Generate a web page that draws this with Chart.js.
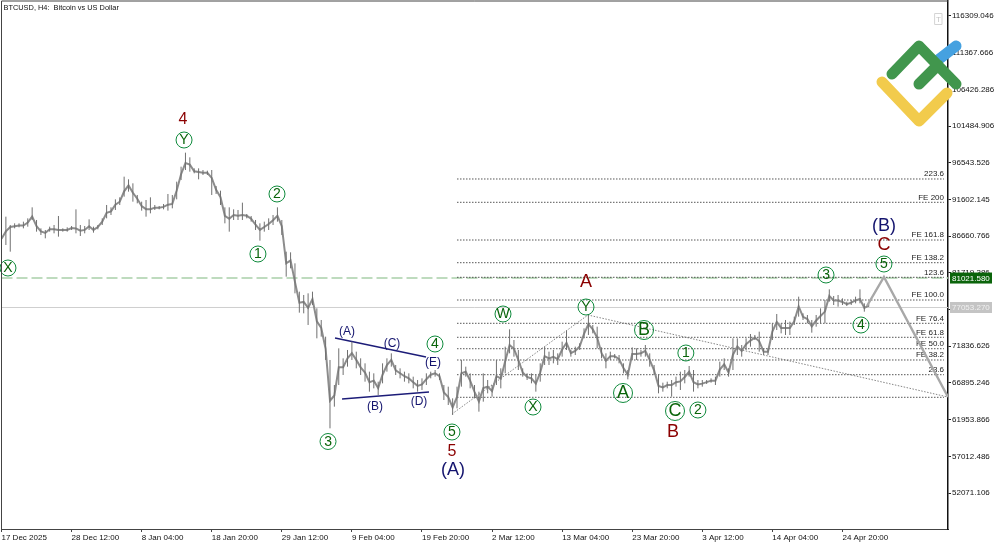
<!DOCTYPE html>
<html>
<head>
<meta charset="utf-8">
<title>BTCUSD H4</title>
<script src="https://cdn.jsdelivr.net/npm/chart.js@4"></script>
<style>
  html, body { margin: 0; padding: 0; background: #fff; overflow: hidden; }
  #wrap { position: relative; width: 1000px; height: 545px; }
  canvas { display: block; }
  #logo { position: absolute; left: 0; top: 0; pointer-events: none; }
</style>
</head>
<body>
<div id="wrap">
  <canvas id="chart" width="1000" height="545" style="width:1000px;height:545px"></canvas>
  <svg id="logo" width="1000" height="545" fill="none" stroke-linecap="round" stroke-linejoin="round">
    <rect x="935" y="13.5" width="7" height="11" stroke="#d4d4d4"/>
    <text x="938.5" y="22" font-family="Liberation Sans" font-size="8" fill="#c4c4c4" text-anchor="middle">T</text>
    <path d="M938 60 L956 46" stroke="#45a1e0" stroke-width="11"/>
    <path d="M892 74 L919 46 L956 84 M919 84 L938 65" stroke="#41964d" stroke-width="11"/>
    <path d="M882 82 L919 121 L947 93" stroke="#f2cb4c" stroke-width="11"/>
  </svg>
</div>
<script>
// H4 bars, one high/low/close per 4 bars
const barStep = 4;
const highs = [
  86817,89286,88164,88388,88388,88613,89061,90543,88837,87715,
  87490,87939,88164,89376,87715,87850,88029,90273,88164,88029,
  88927,87939,88164,89061,90857,90543,91620,91890,94673,94314,
  93775,92204,91306,91530,91890,90857,90722,90992,92339,92204,
  94000,96020,97905,97276,95795,95795,95570,95481,95570,93416,
  92787,90543,90543,90273,90184,91171,89645,89376,88837,88388,
  88613,89061,89510,90543,88837,84572,84482,83001,79186,78737,
  78961,79186,76941,75370,73125,69983,66616,71554,70208,71330,
  72452,71105,70208,69534,68412,68187,67065,69534,70208,70881,
  69310,68861,68412,68187,67739,67290,67514,68187,68412,68636,
  68187,66616,66392,64821,66392,69983,69085,68187,66616,65718,
  68187,67290,66616,69983,68861,71779,74113,72677,71330,68861,
  68187,68187,67963,69534,71779,71105,71330,70881,72452,73933,
  71330,71779,72228,74247,76043,74697,74472,71689,70881,71105,
  70791,70656,69534,68636,71689,71554,71330,72003,70881,69310,
  67963,66930,67065,67289,67738,68411,68636,69175,68636,67289,
  67289,67289,67514,67738,69759,70208,68861,72901,72901,72003,
  72901,73484,73350,73798,71554,71554,74921,76178,74921,75370,
  75145,75819,78512,76267,76043,75370,76043,76941,78063,79500,
  78602,78737,78288,77839,78063,78512,79500,77614,77524
];
const lows = [
  85785,85470,84572,87715,87850,87715,87939,88837,87266,86817,
  86368,87266,87041,86592,87266,87266,87490,87041,86682,87041,
  87490,87131,87580,88164,89061,89510,90184,90857,91979,92653,
  91306,91081,90094,89286,89735,90184,90273,90273,90094,90408,
  91620,94224,95570,95346,95122,94314,94897,94897,92204,92339,
  90857,88388,87266,88837,88837,88837,89061,88613,87490,86053,
  87266,87490,88164,88613,86817,81205,82328,78961,76358,76268,
  74697,77390,72901,73125,69983,60781,63698,66616,67963,69085,
  69983,68861,67963,67065,65718,66167,65270,66841,68412,69085,
  67963,67514,67065,66841,66167,65718,65943,66616,67514,67739,
  67290,64596,63923,62576,63474,66392,67739,66167,64821,63025,
  64372,65494,65045,66616,66167,68187,70881,70432,68636,67739,
  67290,66841,65718,67065,69310,69310,69534,69310,70432,71330,
  70432,70656,71330,72901,73350,73574,71554,70208,68861,69983,
  70208,69534,68187,67379,69983,69983,70432,70432,69085,67963,
  65494,65718,66167,65045,66392,65943,66841,67738,65718,66167,
  66392,66751,66930,66616,67738,68636,67738,68636,70656,70432,
  71330,71779,72676,71105,70656,70656,72676,74023,73574,73350,
  73350,74696,75819,75370,74921,73664,74472,74921,74921,77839,
  77389,77165,77389,77255,77389,77614,77614,76492,77165
];
const closes = [
  86300,87300,87900,88000,88100,88100,88500,89300,88000,87300,
  87100,87600,87600,87500,87500,87500,87750,87700,87400,87500,
  88000,87500,87900,88600,89800,90000,90900,91300,92700,93500,
  92500,91700,90700,90300,90300,90500,90500,90600,90900,91000,
  92800,95000,96500,96300,95400,95300,95200,95200,94500,92900,
  91900,89400,89000,89500,89400,89500,89400,89000,88200,87500,
  87900,88300,88800,89400,88000,83000,83400,80500,77700,77800,
  77000,78200,75200,74300,71500,64500,65200,69000,69000,70200,
  70900,70000,69000,68300,67000,67200,66200,68000,69300,70000,
  68600,68200,67800,67500,67000,66500,66700,67400,68000,68200,
  67800,65600,65000,63600,65000,68200,68400,67200,65700,64400,
  66200,66400,65800,67800,67500,69800,72000,71500,70000,68300,
  67700,67500,66800,68300,70500,70200,70400,70100,71400,72300,
  70900,71200,71800,73500,74800,74100,73000,70900,69900,70500,
  70500,70100,68900,68000,70800,70800,70900,71200,70000,68600,
  66500,66300,66600,66600,67000,67100,67700,68400,67000,66700,
  66800,67000,67200,67200,68700,69400,68300,70700,71800,71200,
  72100,72600,73000,72500,71100,71100,73800,75100,74300,74300,
  74300,75200,77200,75800,75500,74500,75300,75900,76500,78600,
  78000,78000,77800,77500,77700,78000,78200,77000,77300
];

// time axis
const timeLabels = ["17 Dec 2025","28 Dec 12:00","8 Jan 04:00","18 Jan 20:00","29 Jan 12:00","9 Feb 04:00","19 Feb 20:00","2 Mar 12:00","13 Mar 04:00","23 Mar 20:00","3 Apr 12:00","14 Apr 04:00","24 Apr 20:00"];
const timeBars = [0,64,128,192,256,320,384,448,512,576,640,704,768];
const lastBar = 864.4;

// price axis
const priceTicks = [116309.046,111367.666,106426.286,101484.906,96543.526,91602.145,86660.766,81719.386,76778.006,71836.626,66895.246,61953.866,57012.486,52071.106];
const priceMin = 47224;
const priceMax = 118329;
const bidPrice = 81021.58;
const askPrice = 77053.27;

// fibonacci levels
const fibNames = ["223.6","FE 200","FE 161.8","FE 138.2","123.6","FE 100.0","FE 76.4","FE 61.8","FE 50.0","FE 38.2","23.6",""];
const fibPrices = [94358,91220,86143,83086,81120,78063,74925,73040,71504,69983,68003,64959];
const fibFrom = 416;
const fibTo = 860.7;

// hand drawn lines
const triangleTopBars = [304.6,387.7];
const triangleTopPrices = [72946,70387];
const triangleLowBars = [311,390.4];
const triangleLowPrices = [64731,65673];
const swingBars = [411.4,535.6,864.4];
const swingPrices = [62711,76043,64999];
const forecastBars = [790.4,805.9,864.4];
const forecastPrices = [77255,81160,64999];

// wave labels
const circleTexts = ["X","Y","2","1","3","4","5","W","Y","X","B","A","C","2","1","3","4","5"];
const circleBars = [5.9,166.7,251.6,234.2,298.2,395.9,411.4,458,533.8,485.4,586.8,567.6,615.1,636,625,753,784.9,805.9];
const circlePrices = [82372,99610,92338,84258,59007,72138,60287,76178,77120,63653,74023,65539,63115,63249,70925,81430,74696,82911];
const redTexts = ["4","5","A","B","C"];
const redBars = [165.8,411.4,533.8,613.3,805.9];
const redPrices = [102304,57593,80487,60287,85470];
const bigNavyTexts = ["(A)","(B)"];
const bigNavyBars = [412.3,805.9];
const bigNavyPrices = [55169,88029];
const smallNavyTexts = ["(A)","(C)","(E)","(B)","(D)"];
const smallNavyBars = [315.5,356.6,394,341.1,381.3];
const smallNavyPrices = [73754,72138,69579,63653,64327];

const FONT = "Liberation Sans";
const pairs = (xs, ys) => xs.map((x, i) => ({ x, y: ys[i] }));

// vertical wicks, the null breaks the line between bars
const wickPath = highs.flatMap((h, i) => {
  const x = i * barStep;
  return [{ x, y: lows[i] }, { x, y: h }, { x, y: null }];
});

const lineSet = (data, color, width, dash, order) => ({
  data, borderColor: color, borderWidth: width, borderDash: dash || [],
  pointRadius: 0, tension: 0, order
});

const datasets = [
  { ...lineSet(wickPath, "#707070", 1, null, 1), spanGaps: false },
  lineSet(closes.map((y, i) => ({ x: i * barStep, y })), "#8c8c8c", 2, null, 1.5),
  lineSet(pairs(forecastBars, forecastPrices), "#a8a8a8", 2.4, null, 0),
  lineSet(pairs(swingBars, swingPrices), "#666666", 0.8, [1.5, 1.5], 3),
  lineSet(pairs(triangleTopBars, triangleTopPrices), "#1c1c78", 1.4, null, 3),
  lineSet(pairs(triangleLowBars, triangleLowPrices), "#1c1c78", 1.4, null, 3),
  lineSet([{ x: 0, y: bidPrice }, { x: lastBar, y: bidPrice }], "#a9d0a9", 1.4, [11, 4], 4),
  lineSet([{ x: 0, y: askPrice }, { x: lastBar, y: askPrice }], "#cfcfcf", 1, null, 4)
];
fibPrices.forEach(p => {
  datasets.push(lineSet([{ x: fibFrom, y: p }, { x: fibTo, y: p }], "#444444", 0.9, [1.5, 1.5], 3));
});

const overlay = {
  id: "overlay",
  beforeDatasetsDraw(chart) {
    const { ctx, scales: { y } } = chart;
    ctx.save();
    ctx.font = "8px '" + FONT + "'";
    ctx.fillStyle = "#222";
    ctx.textAlign = "right";
    ctx.textBaseline = "middle";
    fibNames.forEach((name, i) => {
      ctx.fillText(name, 944, y.getPixelForValue(fibPrices[i]) - 5);
    });
    ctx.restore();
  },
  afterDatasetsDraw(chart) {
    const { ctx, chartArea: a, scales: { x, y } } = chart;
    ctx.save();
    ctx.textAlign = "center";
    ctx.textBaseline = "middle";

    // green circled labels
    circleTexts.forEach((t, i) => {
      const px = x.getPixelForValue(circleBars[i]);
      const py = y.getPixelForValue(circlePrices[i]);
      const big = t === "A" || t === "B" || t === "C";
      ctx.beginPath();
      ctx.arc(px, py, big ? 9.5 : 8, 0, Math.PI * 2);
      ctx.strokeStyle = "#0f8a3c";
      ctx.lineWidth = 1;
      ctx.stroke();
      ctx.fillStyle = "#0a640a";
      ctx.font = (big ? 18 : 14) + "px '" + FONT + "'";
      ctx.fillText(t, px, py + 0.5);
    });

    // red labels
    ctx.fillStyle = "#8b0000";
    redTexts.forEach((t, i) => {
      ctx.font = (/[0-9]/.test(t) ? 16 : 18) + "px '" + FONT + "'";
      ctx.fillText(t, x.getPixelForValue(redBars[i]), y.getPixelForValue(redPrices[i]));
    });

    // navy labels
    ctx.fillStyle = "#14146e";
    ctx.font = "18px '" + FONT + "'";
    bigNavyTexts.forEach((t, i) => {
      ctx.fillText(t, x.getPixelForValue(bigNavyBars[i]), y.getPixelForValue(bigNavyPrices[i]));
    });
    ctx.font = "12px '" + FONT + "'";
    smallNavyTexts.forEach((t, i) => {
      ctx.fillText(t, x.getPixelForValue(smallNavyBars[i]), y.getPixelForValue(smallNavyPrices[i]));
    });

    // frame on the two sides the axes do not draw
    ctx.strokeStyle = "#444";
    ctx.lineWidth = 1;
    ctx.beginPath();
    ctx.moveTo(a.left, a.bottom);
    ctx.lineTo(a.left, a.top);
    ctx.lineTo(a.right, a.top);
    ctx.stroke();

    // title
    ctx.fillStyle = "#111";
    ctx.font = "7.4px '" + FONT + "'";
    ctx.textAlign = "left";
    ctx.fillText("BTCUSD, H4:  Bitcoin vs US Dollar", 3.5, 7.5);

    // price boxes on the axis
    ctx.font = "8px '" + FONT + "'";
    [[bidPrice, "#0b640b", "#ffffff"], [askPrice, "#c4c4c4", "#f0f0f0"]].forEach(([p, bg, fg]) => {
      const py = y.getPixelForValue(p);
      ctx.fillStyle = bg;
      ctx.fillRect(950, py - 5.5, 42, 11);
      ctx.fillStyle = fg;
      ctx.fillText(p.toFixed(3), 952, py + 0.5);
    });
    ctx.restore();
  }
};

new Chart(document.getElementById("chart"), {
  type: "line",
  data: { datasets },
  plugins: [overlay],
  options: {
    responsive: false,
    animation: false,
    events: [],
    layout: { padding: { left: 1.5, top: 1, right: 0, bottom: 0 } },
    plugins: { legend: { display: false }, tooltip: { enabled: false } },
    scales: {
      x: {
        type: "linear",
        min: 0,
        max: lastBar,
        afterFit: s => { s.height = 16; s.paddingLeft = 0; s.paddingRight = 0; },
        afterBuildTicks: s => { s.ticks = timeBars.map(value => ({ value })); },
        grid: { drawOnChartArea: false, tickLength: 3, color: "#444" },
        border: { color: "#444", width: 1 },
        ticks: {
          autoSkip: false, maxRotation: 0, align: "start", padding: 1,
          color: "#111", font: { family: FONT, size: 8 },
          callback: (v, i) => timeLabels[i]
        }
      },
      y: {
        position: "right",
        min: priceMin,
        max: priceMax,
        afterFit: s => { s.width = 52; s.paddingTop = 0; s.paddingBottom = 0; },
        afterBuildTicks: s => { s.ticks = priceTicks.map(value => ({ value })); },
        grid: { drawOnChartArea: false, tickLength: 3, color: "#222" },
        border: { color: "#111", width: 1.5 },
        ticks: {
          autoSkip: false, padding: 1, color: "#111", font: { family: FONT, size: 8 },
          callback: v => v.toFixed(3)
        }
      }
    }
  }
});
</script>
</body>
</html>
